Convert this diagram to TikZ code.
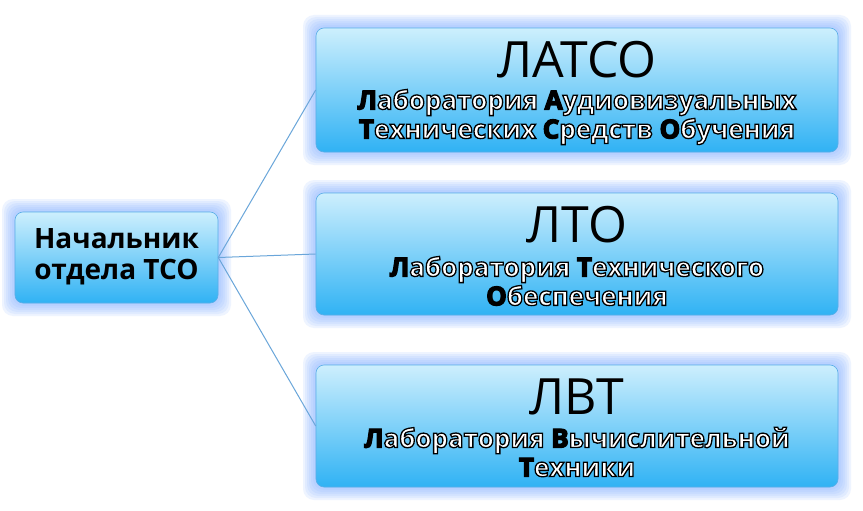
\documentclass[tikz,border=0pt]{standalone}
\usepackage{fontspec}
\setmainfont{Open Sans}
\usetikzlibrary{calc}
\definecolor{glow}{HTML}{8DB8FF}
\definecolor{topc}{HTML}{CDEFFD}
\definecolor{botc}{HTML}{30B2F4}
\definecolor{edgec}{HTML}{5AAEE8}
\definecolor{linkc}{HTML}{6AA6DA}
\newcommand\glowat[4]{\foreach \g in {13,11,...,1}{\fill[glow,opacity=0.14,rounded corners=11pt] (#1-#3/2-\g,#2-#4/2-\g) rectangle (#1+#3/2+\g,#2+#4/2+\g);}}
\newcommand\strokeon{\special{pdf:literal direct 0 0 0 RG 1.3 w 2 Tr}}
\newcommand\strokeoff{\special{pdf:literal direct 0 Tr}}
\newcommand\fl[1]{\textcolor{black}{#1}\strokeon}
\tikzset{
  box/.style={draw=edgec, line width=0.6pt, rounded corners=8pt, top color=topc, bottom color=botc, inner sep=0pt},
  titletxt/.style={font=\fontsize{50}{54}\selectfont, text=black, inner sep=0pt},
  subtxt/.style={font=\bfseries\fontsize{26}{29}\selectfont, align=center, inner sep=0pt, text=white},
  bosstxt/.style={font=\bfseries\fontsize{28}{31}\selectfont, align=center, text=black, inner sep=0pt},
  link/.style={draw=linkc, line width=1pt}
}
\begin{document}
\begin{tikzpicture}[x=1pt,y=-1pt]
\useasboundingbox (0,0) rectangle (863,511);
\fill[white] (0,0) rectangle (863,511);
\glowat{116.5}{257.5}{203}{91}
\glowat{577}{90}{522}{124}
\glowat{577}{254}{522}{122}
\glowat{577}{426}{522}{122}
\node[box, minimum width=203pt, minimum height=91pt] (boss) at (116.5,257.5) {};
\node[box, minimum width=522pt, minimum height=124pt] (latso) at (577,90) {};
\node[box, minimum width=522pt, minimum height=122pt] (lto) at (577,254) {};
\node[box, minimum width=522pt, minimum height=122pt] (lvt) at (577,426) {};
\draw[link] (boss.east) -- (latso.west);
\draw[link] (boss.east) -- (lto.west);
\draw[link] (boss.east) -- (lvt.west);
\node[bosstxt] (bosst) at (116.5,257) {Начальник\\отдела ТСО};
\node[titletxt] (t1) at (577,60) {ЛАТСО};
\node[titletxt] (t2) at (577,225) {ЛТО};
\node[titletxt] (t3) at (577,397) {ЛВТ};
\node[subtxt] (sub1) at (577,117) {\strokeon\fl{Л}аборатория \fl{А}удиовизуальных\\\strokeon\fl{Т}ехнических \fl{С}редств \fl{О}бучения\strokeoff};
\node[subtxt] (sub2) at (577,281) {\strokeon\fl{Л}аборатория \fl{Т}ехнического\\\strokeon\fl{О}беспечения\strokeoff};
\node[subtxt] (sub3) at (577,452) {\strokeon\fl{Л}аборатория \fl{В}ычислительной\\\strokeon\fl{Т}ехники\strokeoff};
\end{tikzpicture}
\end{document}
